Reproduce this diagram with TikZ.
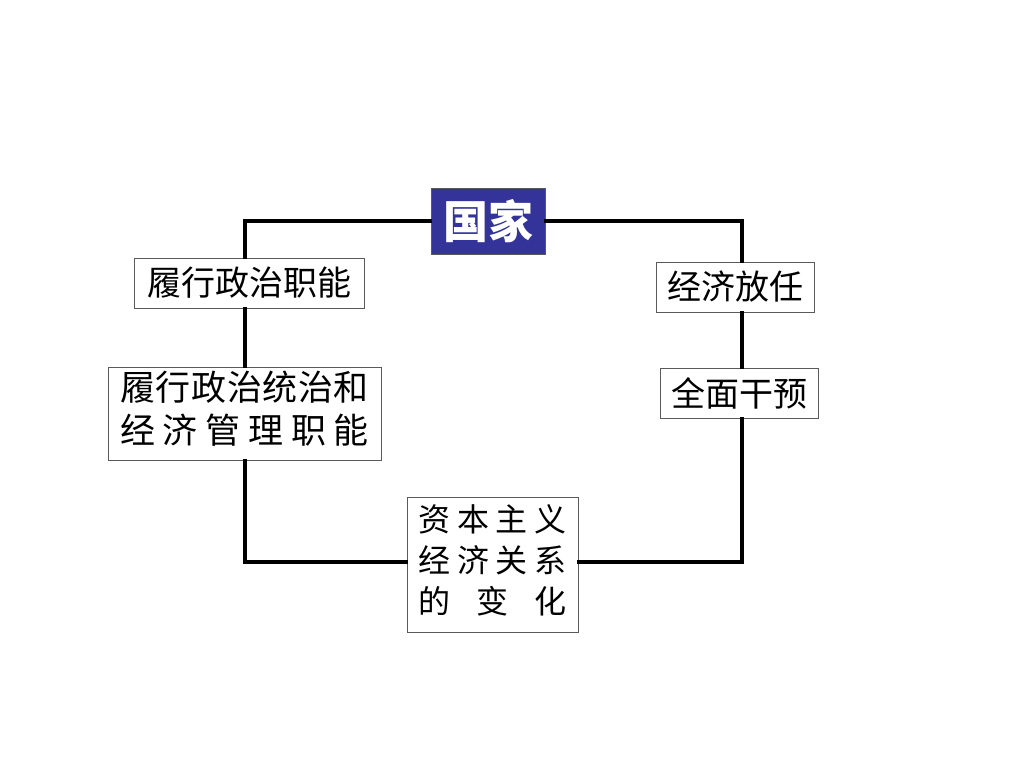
\documentclass[tikz,border=0pt]{standalone}
\usepackage{fontspec}
\newfontfamily\cjk{Noto Sans CJK SC}
\definecolor{navy}{RGB}{51,51,153}
\definecolor{boxline}{RGB}{90,90,90}
\begin{document}
\begin{tikzpicture}[x=1pt,y=-1pt,
  frame/.style={line width=3.5pt,line cap=rect},
  wbox/.style={draw=boxline,line width=1pt,fill=white,inner sep=0pt,font=\cjk\fontsize{34}{40}\selectfont,align=center},
  titlebox/.style={draw=boxline,line width=1pt,fill=navy,text=white,inner sep=0pt,font=\cjk\bfseries\fontsize{45}{50}\selectfont}]
\useasboundingbox (0,0) rectangle (1024,768);
\coordinate (tl) at (245,221);
\coordinate (tr) at (742,221);
\coordinate (bl) at (245,562);
\coordinate (br) at (742,562);
% nodes
\node[titlebox,minimum width=114pt,minimum height=66pt] (guo) at (488,221) {国家};
\node[wbox,minimum width=230pt,minimum height=50pt] (lz1) at (249,283) {履行政治职能};
\node[wbox,minimum width=273pt,minimum height=93pt,font=\cjk\fontsize{35}{42}\selectfont] (lz2) at (244.5,413.5) {%
  \raisebox{-4pt}{\begin{tabular}{@{}c@{}}\makebox[7.1em][s]{履\hfil 行\hfil 政\hfil 治\hfil 统\hfil 治\hfil 和}\\\makebox[7.1em][s]{经\hfil 济\hfil 管\hfil 理\hfil 职\hfil 能}\end{tabular}}};
\node[wbox,minimum width=158pt,minimum height=50pt] (jj) at (735,287) {经济放任};
\node[wbox,minimum width=158pt,minimum height=50pt] (qm) at (739,393) {全面干预};
\node[wbox,minimum width=171pt,minimum height=135pt,font=\cjk\fontsize{32}{41}\selectfont] (zb) at (492.5,564.5) {%
  \begin{tabular}{@{}c@{}}\makebox[4.6em][s]{资\hfil 本\hfil 主\hfil 义}\\
  \makebox[4.6em][s]{经\hfil 济\hfil 关\hfil 系}\\
  \makebox[4.6em][s]{的\hfil 变\hfil 化}\end{tabular}};
% connectors
\draw[frame] (guo.west) -- (tl) -- (tl |- lz1.north);
\draw[frame] (tl |- lz1.south) -- (tl |- lz2.north);
\draw[frame] (tl |- lz2.south) -- (bl) -- (zb.west |- bl);
\draw[frame] (guo.east) -- (tr) -- (tr |- jj.north);
\draw[frame] (tr |- jj.south) -- (tr |- qm.north);
\draw[frame] (tr |- qm.south) -- (br) -- (zb.east |- br);
\end{tikzpicture}
\end{document}
